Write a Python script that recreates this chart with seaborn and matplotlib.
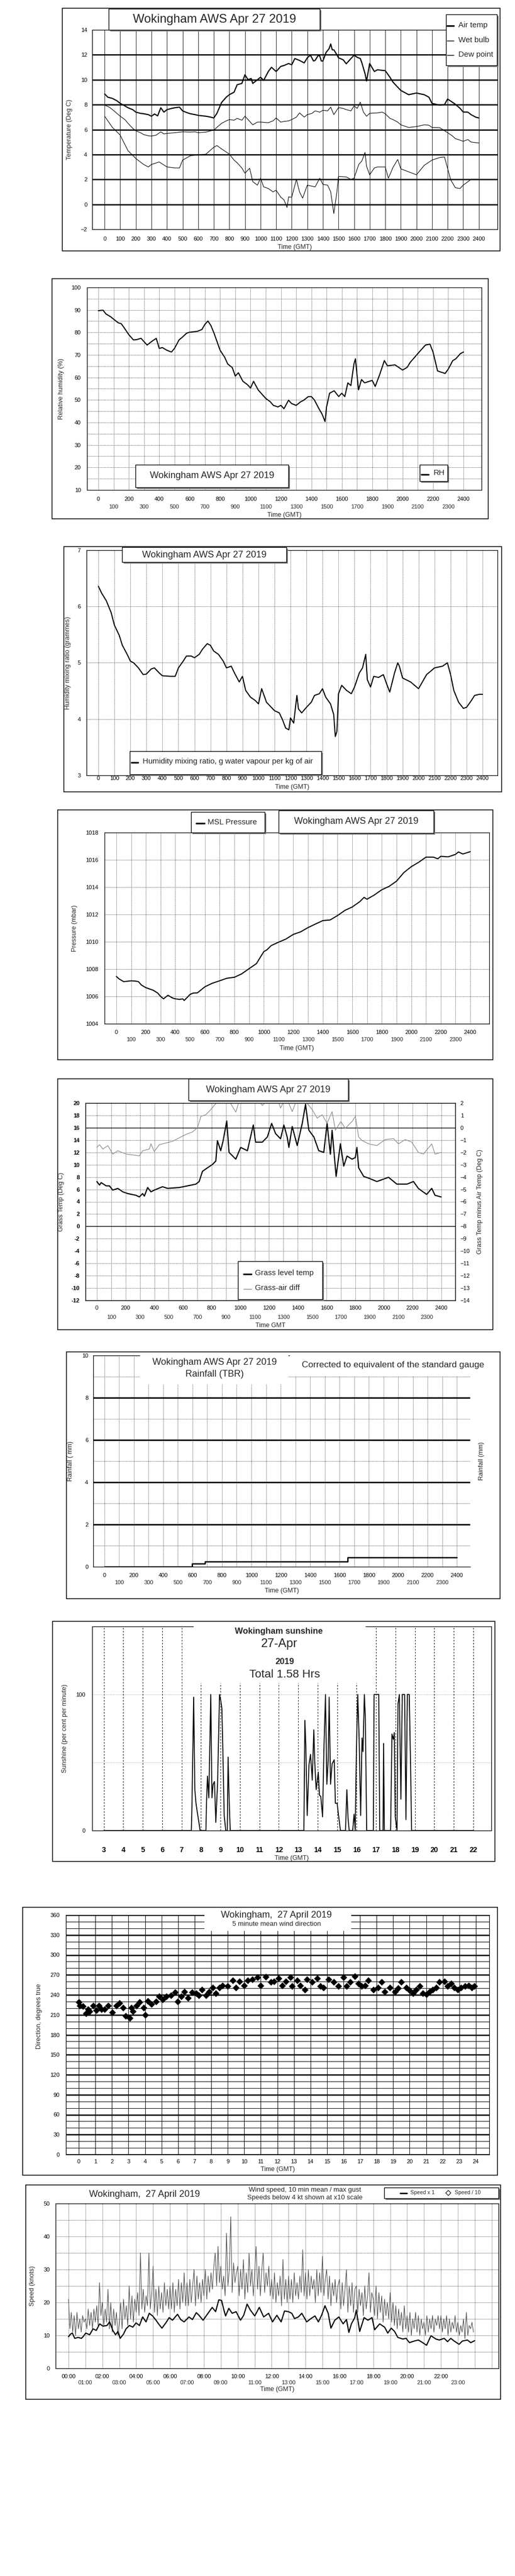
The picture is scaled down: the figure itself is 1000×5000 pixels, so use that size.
import numpy as np
import seaborn as sns
import matplotlib.pyplot as plt
from matplotlib.patches import Rectangle
from matplotlib.lines import Line2D
from matplotlib.ticker import MultipleLocator

# ---------------- data ----------------
# temperature panel, time as HHMM
at_time = [0, 20, 50, 80, 100, 130, 150, 180, 200, 230, 250, 280, 300, 320, 340, 360, 380, 400, 430, 450,
           480, 500, 530, 550, 580, 600, 650, 680, 700, 720, 750, 780, 800, 830, 850, 880, 900, 920, 940, 950,
           980, 1000, 1020, 1050, 1070, 1100, 1130, 1150, 1180, 1200, 1220, 1250, 1280, 1300, 1320, 1340, 1350,
           1370, 1380, 1390, 1400, 1420, 1440, 1450, 1460, 1470, 1490, 1500, 1530, 1550, 1580, 1600, 1620, 1640,
           1650, 1670, 1680, 1700, 1730, 1750, 1780, 1800, 1830, 1850, 1880, 1900, 1950, 2000, 2050, 2080, 2100,
           2150, 2180, 2200, 2230, 2250, 2280, 2300, 2330, 2350, 2380, 2400]
air_temp = [8.86, 8.6, 8.5, 8.3, 8.1, 7.9, 7.75, 7.6, 7.4, 7.3, 7.27, 7.2, 7.07, 7.25, 7.1, 7.75, 7.4, 7.6, 7.7, 7.75,
            7.8, 7.5, 7.35, 7.27, 7.2, 7.14, 7.07, 7.0, 6.93, 7.3, 8.17, 8.6, 8.8, 9.0, 9.6, 9.7, 10.4, 10.0, 10.1, 9.7,
            10.0, 10.2, 9.95, 10.66, 11.0, 10.66, 11.07, 11.14, 11.3, 11.2, 11.7, 11.55, 11.35, 11.76, 11.97, 11.5, 11.55,
            11.95, 11.9, 11.5, 11.5, 12.18, 12.5, 12.87, 12.4, 12.4, 12.0, 11.76, 11.6, 11.28, 11.7, 11.97, 11.8, 11.7,
            11.35, 10.5, 9.9, 11.3, 10.66, 10.8, 10.75, 10.73, 10.2, 9.8, 9.4, 9.14, 8.8, 8.93, 8.8, 8.6, 8.1,
            7.96, 8.0, 8.45, 8.2, 8.03, 7.7, 7.41, 7.4, 7.2, 7.0, 6.93]

wb_time = [0, 30, 60, 100, 130, 150, 180, 200, 230, 250, 280, 300, 330, 360, 380, 400, 450, 500, 550, 580,
           600, 650, 700, 750, 780, 800, 830, 850, 880, 900, 920, 950, 980, 1000, 1050, 1080, 1100, 1130, 1150, 1180,
           1200, 1230, 1250, 1280, 1300, 1330, 1350, 1380, 1400, 1430, 1450, 1470, 1500, 1530, 1550, 1580, 1600, 1620,
           1640, 1660, 1680, 1700, 1750, 1780, 1800, 1830, 1850, 1880, 1900, 1950, 2000, 2050, 2080, 2100, 2150,
           2200, 2230, 2250, 2280, 2300, 2330, 2350, 2380, 2400]
wet_bulb = [7.96, 7.8, 7.5, 7.07, 6.8, 6.5, 6.1, 5.9, 5.75, 5.6, 5.5, 5.48, 5.55, 5.82, 5.65, 5.69, 5.75, 5.82, 5.8, 5.82,
            5.75, 5.8, 5.96, 6.5, 6.7, 6.8, 6.75, 6.9, 6.75, 7.07, 6.8, 6.38, 6.6, 6.6, 6.55, 6.7, 6.93, 6.6, 6.65, 6.7,
            6.8, 7.0, 7.34, 7.0, 7.2, 7.3, 7.5, 7.4, 7.55, 7.5, 7.8, 7.2, 7.76, 7.7, 7.6, 7.5, 7.9, 7.7,
            8.2, 7.4, 7.07, 7.3, 7.34, 7.4, 7.27, 6.9, 6.8, 6.6, 6.38, 6.17, 6.24, 6.38, 6.35, 6.17, 6.15,
            5.75, 5.5, 5.27, 5.15, 5.06, 5.2, 5.0, 4.95, 4.93]

dp_time = [0, 50, 100, 150, 200, 250, 280, 300, 350, 400, 450, 480, 500, 550, 600, 650, 700, 720, 750, 800,
           830, 850, 880, 900, 930, 950, 980, 1000, 1020, 1050, 1080, 1100, 1130, 1150, 1170, 1180, 1200, 1230, 1250,
           1270, 1300, 1350, 1380, 1400, 1430, 1450, 1470, 1490, 1500, 1550, 1580, 1600, 1630, 1650, 1670, 1680,
           1700, 1730, 1750, 1800, 1820, 1850, 1880, 1900, 2000, 2050, 2100, 2150, 2180, 2220, 2250, 2280, 2300,
           2350, 2400]
dew_point = [7.07, 6.17, 5.55, 4.3, 3.68, 3.2, 3.0, 3.2, 3.4, 3.0, 2.92, 2.92, 3.55, 3.9, 3.96, 4.03, 4.58, 4.72, 4.45, 4.03,
             3.55, 3.33, 2.92, 2.5, 2.9, 1.82, 1.54, 2.1, 1.4, 1.27, 1.0, 1.13, 0.57, 0.37, -0.25, 0.6, 0.57, 2.0, 1.0,
             0.5, 1.54, 1.4, 2.1, 1.6, 1.54, 1.0, -0.74, 1.0, 2.24, 2.2, 2.0, 2.1, 3.2, 3.48, 4.17, 3.06,
             2.37, 2.92, 3.0, 3.0, 2.1, 2.97, 3.6, 2.85, 2.37, 3.13, 3.55, 3.76, 3.8, 1.96, 1.33, 1.27, 1.54,
             2.0, 2.0]

# relative humidity
rh_time = [0, 30, 50, 80, 100, 130, 150, 170, 200, 230, 250, 280, 300, 320, 350, 380, 400, 420, 450, 480,
           500, 530, 550, 580, 600, 650, 680, 700, 720, 740, 760, 780, 800, 830, 850, 880, 900, 920, 950, 980,
           1000, 1020, 1050, 1080, 1100, 1130, 1150, 1180, 1200, 1220, 1250, 1270, 1300, 1330, 1350, 1380, 1400,
           1420, 1450, 1470, 1490, 1500, 1520, 1550, 1580, 1600, 1620, 1640, 1660, 1680, 1690, 1700, 1710, 1730,
           1750, 1800, 1820, 1850, 1880, 1900, 1950, 2000, 2030, 2050, 2100, 2130, 2150, 2180, 2200, 2230, 2260,
           2280, 2300, 2330, 2350, 2380, 2400]
rh = [89.7, 89.9, 88.2, 87.0, 85.9, 84.3, 83.9, 82.0, 79.0, 76.7, 76.8, 77.4, 75.9, 74.4, 76.0, 77.4, 72.9, 73.3, 72.1, 71.3,
      72.9, 76.7, 77.8, 79.7, 80.1, 80.5, 81.3, 83.6, 85.1, 83.0, 79.7, 75.9, 72.1, 69.0, 66.0, 64.4, 60.6, 62.1, 58.3, 56.8,
      55.3, 58.3, 54.5, 52.2, 50.7, 49.2, 47.6, 46.9, 47.6, 46.1, 49.9, 48.4, 47.6, 49.2, 49.9, 51.5, 51.5,
      50.0, 46.1, 43.8, 40.4, 46.9, 53.0, 54.1, 51.5, 53.0, 51.5, 57.6, 56.4, 66.0, 68.3, 61.4, 54.5, 59.1,
      57.6, 58.7, 56.0, 61.4, 67.5, 65.2, 65.6, 63.3, 64.5, 66.7, 70.6, 72.9, 74.4, 74.8, 71.3, 62.9, 62.2,
      61.8, 63.7, 67.5, 68.3, 70.6, 71.3]

# humidity mixing ratio
mr_time = [0, 20, 50, 80, 100, 130, 150, 180, 200, 220, 250, 280, 300, 330, 350, 380, 400, 450, 480, 500,
           530, 550, 580, 600, 630, 650, 680, 700, 720, 750, 780, 800, 830, 850, 880, 900, 920, 950, 980, 1000,
           1020, 1050, 1080, 1100, 1130, 1150, 1170, 1190, 1200, 1220, 1240, 1250, 1270, 1300, 1330, 1350, 1380,
           1400, 1420, 1450, 1470, 1480, 1490, 1500, 1520, 1550, 1580, 1600, 1630, 1650, 1670, 1680, 1700, 1720,
           1750, 1780, 1800, 1820, 1850, 1870, 1880, 1900, 1950, 2000, 2030, 2050, 2100, 2150, 2180, 2200, 2220,
           2250, 2280, 2300, 2330, 2350, 2380, 2400]
mixing = [6.36, 6.24, 6.10, 5.89, 5.67, 5.49, 5.31, 5.15, 5.03, 5.00, 4.91, 4.79, 4.80, 4.89, 4.91, 4.82, 4.77, 4.76, 4.76, 4.91,
          5.03, 5.12, 5.12, 5.09, 5.15, 5.24, 5.34, 5.31, 5.21, 5.15, 5.03, 4.91, 4.94, 4.82, 4.66, 4.76, 4.51, 4.39, 4.33, 4.27,
          4.54, 4.30, 4.21, 4.15, 4.11, 3.99, 3.84, 3.81, 4.02, 3.93, 4.42, 4.18, 4.11, 4.21, 4.30, 4.42, 4.45,
          4.54, 4.39, 4.27, 4.08, 3.69, 3.78, 4.45, 4.60, 4.51, 4.45, 4.57, 4.82, 4.91, 5.15, 4.70, 4.57, 4.76,
          4.74, 4.79, 4.63, 4.48, 4.82, 5.00, 4.94, 4.73, 4.66, 4.54, 4.69, 4.79, 4.91, 4.94, 5.00, 4.79, 4.51,
          4.30, 4.19, 4.21, 4.33, 4.42, 4.44, 4.44]

# MSL pressure
pr_time = [0, 20, 50, 100, 130, 150, 170, 200, 250, 280, 300, 320, 350, 380, 400, 430, 450, 460, 500, 520,
           550, 600, 650, 700, 750, 800, 850, 900, 950, 1000, 1020, 1050, 1100, 1150, 1200, 1250, 1300, 1350, 1400,
           1450, 1500, 1550, 1600, 1650, 1680, 1700, 1750, 1800, 1850, 1900, 1950, 2000, 2050, 2100, 2150, 2180,
           2200, 2250, 2300, 2320, 2350, 2400]
pressure = [1007.46, 1007.27, 1007.08, 1007.14, 1007.12, 1007.08, 1006.83, 1006.64, 1006.45, 1006.25, 1006.0, 1005.82,
            1006.08, 1005.89, 1005.82, 1005.78, 1005.82, 1005.70, 1006.14, 1006.24, 1006.26, 1006.70, 1006.96, 1007.14,
            1007.33, 1007.40, 1007.65, 1008.03, 1008.40, 1009.28, 1009.40, 1009.72, 1009.97, 1010.20, 1010.54, 1010.73,
            1011.04, 1011.30, 1011.55, 1011.60, 1011.92, 1012.30, 1012.55, 1012.93, 1013.25, 1013.12, 1013.43, 1013.81,
            1014.06, 1014.44, 1015.07, 1015.50, 1015.82, 1016.20, 1016.20, 1016.08, 1016.26, 1016.22, 1016.40, 1016.58,
            1016.43, 1016.60]

# grass temperature and grass minus air
gt_time = [0, 19, 30, 65, 88, 111, 146, 181, 215, 273, 296, 319, 331, 354, 377, 400, 458, 493, 574, 632,
           690, 713, 736, 771, 806, 829, 840, 863, 880, 905, 921, 968, 1002, 1049, 1090, 1106, 1153, 1188, 1218,
           1245, 1280, 1303, 1326, 1338, 1361, 1396, 1431, 1454, 1477, 1512, 1546, 1581, 1604, 1627, 1639, 1667,
           1697, 1720, 1743, 1778, 1801, 1812, 1824, 1859, 1894, 1951, 2032, 2090, 2160, 2206, 2240, 2264, 2298,
           2333, 2356, 2398]
grass_temp = [7.27, 6.7, 7.1, 6.57, 6.57, 5.88, 6.16, 5.6, 5.32, 5.04, 4.77, 5.32, 4.9, 6.3, 5.6, 5.88, 6.43, 6.16, 6.3, 6.57,
              6.85, 7.27, 8.93, 9.5, 10.05, 10.6, 13.9, 12.27, 13.9, 17.1, 12.0, 10.9, 12.8, 12.27, 16.44, 13.66, 13.66,
              14.5, 16.7, 15.05, 14.2, 16.44, 14.5, 12.8, 16.2, 13.1, 16.7, 19.8, 15.6, 14.5, 12.27, 12.0, 16.7, 11.7,
              15.6, 8.1, 13.4, 9.77, 11.4, 10.9, 11.16, 12.8, 9.5, 8.1, 7.82, 7.27, 7.96, 6.85, 6.85, 7.27, 6.16, 5.74,
              5.18, 6.16, 5.04, 4.77]
gd_time = [0, 19, 42, 77, 111, 146, 204, 250, 296, 319, 366, 377, 400, 435, 481, 528, 574, 620, 667, 701,
           725, 759, 794, 829, 850, 880, 920, 968, 1000, 1050, 1100, 1153, 1200, 1250, 1280, 1320, 1361, 1400, 1450,
           1500, 1535, 1570, 1604, 1639, 1662, 1700, 1731, 1760, 1778, 1801, 1824, 1847, 1894, 1951, 2009, 2067,
           2102, 2148, 2194, 2240, 2275, 2333, 2356, 2398]
grass_diff = [-1.59, -1.38, -1.73, -1.45, -2.14, -1.87, -2.14, -2.21, -2.28, -1.87, -1.73, -1.31, -1.94, -1.38, -1.24,
              -1.1, -0.82, -0.55, -0.34, 0.0, 0.92, 1.05, 1.47, 1.96, 2.4, 2.6, 2.2, 1.26, 2.5, 2.3, 2.6, 1.8, 2.4,
              2.6, 1.6, 2.5, 1.3, 2.5, 2.2, 1.47, 0.78, 1.05, 0.36, 1.3, -0.2, 0.5, -0.06, 0.3, 0.5, 0.92, -0.75,
              -1.03, -1.31, -1.45, -0.96, -0.89, -1.31, -0.96, -1.17, -2.0, -2.14, -1.31, -2.14, -2.0]

# rainfall accumulation (step)
rain_time = [0, 595, 685, 1655, 2400]
rain_mm = [0, 0.15, 0.24, 0.45, 0.45]

# sunshine, hours GMT and per cent per minute
sun_hour = [3.0, 7.50, 7.53, 7.62, 7.68, 7.74, 7.80, 7.90, 7.95, 8.25, 8.28, 8.33, 8.40, 8.50, 8.56, 8.62, 8.69,
            8.76, 8.85, 8.90, 8.95, 9.02, 9.07, 9.12, 9.19, 9.27, 9.35, 9.39, 9.44, 9.50, 13.29, 13.34, 13.39,
            13.46, 13.55, 13.63, 13.72, 13.80, 13.85, 13.92, 14.03, 14.09, 14.16, 14.25, 14.32, 14.40, 14.47,
            14.54, 14.59, 14.66, 14.74, 14.85, 14.91, 15.00, 15.09, 15.17, 15.43, 15.50, 15.56, 15.62, 15.80,
            15.87, 15.93, 15.99, 16.06, 16.13, 16.21, 16.28, 16.33, 16.40, 16.45, 16.52, 16.86, 16.90, 17.14,
            17.19, 17.36, 17.39, 17.43, 17.75, 17.82, 17.89, 17.94, 17.99, 18.08, 18.13, 18.20, 18.28, 18.35,
            18.47, 18.54, 18.61, 18.71, 18.78, 18.83, 22.0]
sun_pct = [0, 0, 17, 98, 30, 20, 14, 5, 0, 0, 20, 40, 24, 100, 24, 34, 36,
           6, 35, 67, 100, 95, 90, 60, 11, 0, 0, 54, 26, 0, 0, 81, 62,
           11, 48, 56, 37, 74, 50, 30, 43, 26, 25, 10, 60, 100, 34,
           52, 98, 34, 49, 52, 20, 20, 9, 0, 0, 30, 9, 0, 0,
           12, 0, 59, 100, 68, 11, 68, 58, 100, 83, 0, 0, 100, 100,
           0, 0, 64, 0, 0, 71, 67, 72, 10, 0, 93, 100, 23, 100,
           100, 8, 100, 100, 45, 0, 0]

# wind direction, 5 minute mean
wd_hour = [0.0, 0.06, 0.26, 0.42, 0.56, 0.66, 0.86, 1.06, 1.22, 1.37, 1.57, 1.77, 2.03, 2.27, 2.47, 2.67, 2.83,
           3.07, 3.17, 3.27, 3.47, 3.67, 3.92, 4.02, 4.18, 4.38, 4.68, 4.84, 5.08, 5.28, 5.58, 5.82, 5.98, 6.18,
           6.39, 6.59, 6.85, 7.09, 7.25, 7.45, 7.69, 7.89, 8.09, 8.29, 8.49, 8.69, 9.0, 9.3, 9.5, 9.7, 9.98,
           10.2, 10.5, 10.8, 11.0, 11.3, 11.6, 11.8, 12.07, 12.31, 12.5, 12.8, 12.9, 13.2, 13.4, 13.67, 13.8,
           14.1, 14.4, 14.6, 14.8, 15.1, 15.4, 15.7, 16.0, 16.2, 16.4, 16.7, 16.9, 17.1, 17.3, 17.5, 17.8, 18.1,
           18.3, 18.5, 18.8, 19.1, 19.3, 19.5, 19.8, 20.0, 20.2, 20.4, 20.6, 20.8, 21.0, 21.2, 21.4, 21.6, 21.8,
           22.1, 22.3, 22.5, 22.7, 22.9, 23.1, 23.35, 23.55, 23.75, 23.9]
wd_deg = [229.5, 224, 223, 212, 218, 215, 224, 217, 224, 218, 218, 224, 214, 224, 228, 221, 208,
          205, 221, 215, 224, 229, 221, 210, 231, 226, 230, 238, 233, 238, 239, 244, 230, 238,
          245, 235, 244, 242, 239, 248, 239, 245, 251, 242, 251, 254, 253, 262, 251, 260, 254,
          262, 263, 266, 254, 267, 259, 260, 265, 254, 260, 266, 253, 262, 254, 248, 263,
          259, 265, 253, 251, 263, 259, 253, 266, 253, 259, 268, 257, 253, 254, 262, 248, 251,
          259, 245, 251, 245, 250, 259, 251, 247, 242, 248, 253, 242, 241, 245, 248, 251, 259,
          260, 253, 257, 251, 248, 251, 253, 254, 251, 253]

# wind speed, 10 min mean
ws_hour = [0.0, 0.12, 0.23, 0.37, 0.57, 0.76, 0.86, 1.02, 1.25, 1.45, 1.64, 1.84, 2.04, 2.27, 2.43, 2.62, 2.78,
           2.92, 3.05, 3.25, 3.4, 3.6, 3.8, 3.99, 4.19, 4.38, 4.58, 4.77, 4.97, 5.17, 5.32, 5.52, 5.75, 5.95,
           6.14, 6.44, 6.63, 6.83, 7.12, 7.32, 7.55, 7.71, 7.95, 8.2, 8.49, 8.69, 8.88, 9.04, 9.18, 9.28, 9.47,
           9.67, 9.9, 10.16, 10.35, 10.55, 10.74, 11.0, 11.27, 11.53, 11.82, 12.05, 12.31, 12.56, 12.76, 12.99,
           13.19, 13.35, 13.58, 13.78, 14.07, 14.32, 14.56, 14.76, 14.95, 15.15, 15.34, 15.5, 15.73, 15.97,
           16.22, 16.42, 16.56, 16.71, 16.91, 17.0, 17.2, 17.46, 17.69, 17.93, 18.08, 18.38, 18.67, 18.86,
           19.06, 19.26, 19.45, 19.74, 19.94, 20.14, 20.43, 20.67, 20.92, 21.15, 21.41, 21.7, 21.9, 22.19,
           22.39, 22.58, 22.78, 23.07, 23.27, 23.56, 23.76, 23.99]
ws_mean = [9.6, 10.4, 10.7, 9.1, 9.4, 9.1, 9.6, 10.7, 10.2, 12.0, 11.5, 13.5, 12.8, 13.0, 14.1, 11.5, 10.2,
           11.2, 9.1, 10.4, 12.0, 13.0, 12.5, 13.8, 13.0, 15.6, 14.1, 16.7, 15.9, 14.6, 13.5, 12.2, 13.8, 15.4,
           14.6, 16.4, 14.8, 14.1, 15.6, 14.8, 16.9, 16.1, 14.6, 16.4, 18.5, 17.2, 20.8, 20.6, 17.7, 15.9, 18.2,
           16.7, 17.2, 14.6, 16.1, 19.5, 17.7, 15.9, 18.5, 15.6, 16.7, 14.1, 16.1, 14.1, 17.4, 17.2,
           16.7, 15.1, 15.6, 16.7, 14.1, 15.1, 15.9, 14.1, 16.1, 19.0, 16.7, 12.2, 14.6, 15.6,
           13.5, 14.8, 10.9, 13.5, 15.4, 17.7, 11.2, 15.4, 14.6, 15.4, 11.7, 13.5, 12.5, 10.7,
           12.2, 11.2, 9.4, 8.9, 9.1, 7.8, 8.3, 8.6, 7.8, 7.0, 9.9, 8.9, 8.6, 9.1,
           8.1, 9.1, 8.3, 7.3, 8.3, 8.6, 7.8, 8.4]

# max gust, every 5 minutes from 00:00
ws_gust = [21, 12, 17, 11, 16, 10, 17, 12, 15, 11, 16, 14,
           15, 12, 18, 13, 17, 12, 18, 14, 19, 13, 26, 16,
           20, 13, 18, 14, 24, 12, 20, 11, 18, 13, 17, 10,
           14, 20, 12, 21, 15, 19, 13, 25, 15, 22, 14, 21,
           17, 23, 16, 35, 18, 24, 17, 22, 19, 35, 18, 23,
           31, 17, 24, 16, 25, 18, 23, 17, 26, 19, 24, 18,
           25, 18, 26, 17, 24, 19, 27, 18, 26, 20, 29, 19,
           26, 19, 27, 20, 25, 30, 19, 28, 21, 26, 20, 27,
           22, 30, 21, 28, 23, 29, 24, 31, 35, 25, 37, 26,
           31, 24, 28, 22, 41, 25, 30, 46, 23, 32, 26, 29,
           31, 22, 30, 24, 33, 21, 29, 23, 35, 25, 30, 22,
           29, 37, 24, 31, 22, 30, 35, 23, 29, 25, 31, 22,
           27, 21, 29, 20, 26, 22, 28, 19, 33, 21, 27, 20,
           28, 21, 27, 20, 29, 22, 26, 21, 28, 23, 36, 22,
           29, 21, 30, 22, 28, 24, 27, 20, 30, 22, 29, 23,
           34, 22, 27, 30, 21, 28, 19, 26, 22, 27, 20, 25,
           27, 18, 26, 19, 24, 30, 17, 25, 19, 26, 17, 24,
           25, 17, 24, 19, 23, 16, 25, 18, 22, 29, 17, 23,
           21, 16, 25, 15, 23, 17, 22, 14, 21, 16, 20, 15,
           23, 14, 20, 13, 19, 12, 18, 13, 17, 11, 19, 12,
           16, 11, 17, 10, 15, 12, 17, 11, 16, 10, 15, 12,
           14, 10, 16, 11, 15, 12, 16, 11, 15, 13, 16, 12,
           16, 11, 15, 12, 16, 10, 15, 11, 14, 12, 16, 11,
           14, 10, 13, 11, 15, 9, 17, 10, 13, 12, 14, 11]
gust_hour = np.arange(len(ws_gust)) / 12.0

hhmm_ticks = list(range(0, 2401, 100))
hhmm_labels = [str(t) for t in hhmm_ticks]

# ---------------- figure ----------------
sns.set_style("white")
plt.rcParams["font.family"] = ["Liberation Sans", "DejaVu Sans"]

W, H = 1000, 5000
fig = plt.figure(figsize=(10, 50), dpi=100)


def fx(x):
    return x / W


def fy(y):
    return 1 - y / H


def add_ax(x0, y0, x1, y1):
    ax = fig.add_axes([fx(x0), fy(y1), (x1 - x0) / W, (y1 - y0) / H])
    ax.set_facecolor("white")
    for s in ax.spines.values():
        s.set_visible(True)
        s.set_color("black")
        s.set_linewidth(0.9)
    ax.tick_params(length=0, labelsize=8, colors="black")
    ax.set_axisbelow(True)
    return ax


def frame(x0, y0, x1, y1):
    fig.patches.append(Rectangle((fx(x0), fy(y1)), (x1 - x0) / W, (y1 - y0) / H,
                                 transform=fig.transFigure, fill=False, ec="black", lw=1.1, zorder=1))


def box(x0, y0, x1, y1, shadow=True, edge=True):
    if shadow:
        fig.patches.append(Rectangle((fx(x0 + 3), fy(y1 + 3)), (x1 - x0) / W, (y1 - y0) / H,
                                     transform=fig.transFigure, fc="#808080", ec="none", zorder=4))
    fig.patches.append(Rectangle((fx(x0), fy(y1)), (x1 - x0) / W, (y1 - y0) / H,
                                 transform=fig.transFigure, fc="white",
                                 ec="black" if edge else "none", lw=1.0, zorder=5))


def text(x, y, s, size, ha="center", **kw):
    fig.text(fx(x), fy(y), s, fontsize=size, ha=ha, va="center", zorder=6, **kw)


def key_line(x0, x1, y, color="black", lw=2.2):
    fig.lines.append(Line2D([fx(x0), fx(x1)], [fy(y), fy(y)], transform=fig.transFigure,
                            color=color, lw=lw, zorder=6))


def labels(ax, box_px, ylab, ylab_x, xlab, xlab_y, size=9, ylab_frac=0.5):
    x0, y0, x1, y1 = box_px
    ax.set_ylabel(ylab, fontsize=size, va="center")
    ax.yaxis.set_label_coords((ylab_x - x0) / (x1 - x0), ylab_frac)
    ax.set_xlabel(xlab, fontsize=size, va="center")
    ax.xaxis.set_label_coords(0.5, -(xlab_y - y1) / (y1 - y0))


def two_row(ax, ticks, labs, pad, gap, size=8):
    ax.set_xticks(ticks[0::2])
    ax.set_xticklabels(labs[0::2])
    ax.set_xticks(ticks[1::2], minor=True)
    ax.set_xticklabels(labs[1::2], minor=True)
    ax.tick_params(axis="x", which="major", pad=pad, labelsize=size)
    ax.tick_params(axis="x", which="minor", pad=pad + gap, length=0, labelsize=size)


def line(ax, x, y, color="black", lw=1.5, **kw):
    sns.lineplot(x=x, y=y, ax=ax, color=color, linewidth=lw, estimator=None, sort=False, legend=False, **kw)


dotted = (0, (1, 1.6))

# ===== 1. temperature =====
frame(121, 16, 971, 487)
b = (179, 58, 966, 445)
ax = add_ax(*b)
line(ax, at_time, air_temp, lw=1.6)
line(ax, wb_time, wet_bulb, lw=0.8)
line(ax, dp_time, dew_point, lw=0.8)
ax.set_xlim(-80, 2520)
ax.set_ylim(-2, 14)
ax.set_xticks(hhmm_ticks)
ax.set_xticklabels(hhmm_labels)
ax.set_yticks(range(-2, 15, 2))
ax.grid(True, axis="x", color="black", lw=0.6)
for v in range(0, 13, 2):
    ax.axhline(v, color="black", lw=1.8, zorder=0.5)
ax.tick_params(axis="x", pad=10)
ax.tick_params(axis="y", pad=7)
labels(ax, b, "Temperature (Deg C)", 135, "Time (GMT)", 480)
box(211, 17, 621, 58)
text(416, 38, "Wokingham AWS Apr 27 2019", 17)
box(866, 28, 965, 127)
key_line(868, 881, 50, lw=2.2)
key_line(868, 881, 79, lw=1.0)
key_line(868, 881, 107, lw=1.0)
text(890, 49, "Air temp", 11, ha="left")
text(890, 78, "Wet bulb", 11, ha="left")
text(890, 106, "Dew point", 11, ha="left")

# ===== 2. relative humidity =====
frame(101, 541, 948, 1007)
b = (169, 558, 935, 951)
ax = add_ax(*b)
line(ax, rh_time, rh, lw=1.5)
ax.set_xlim(-75, 2519)
ax.set_ylim(10, 100)
two_row(ax, hhmm_ticks, hhmm_labels, 9.4, 10.6)
ax.set_yticks(range(10, 101, 10))
ax.yaxis.set_minor_locator(MultipleLocator(5))
ax.grid(True, which="both", color="black", lw=0.6, ls=dotted)
ax.tick_params(axis="y", pad=8.6)
labels(ax, b, "Relative humidity (%)", 119, "Time (GMT)", 1000)
box(263, 902, 560, 946)
text(412, 924, "Wokingham AWS Apr 27 2019", 13)
box(815, 902, 869, 934)
key_line(818, 832, 921)
text(842, 918, "RH", 11, ha="left")

# ===== 3. mixing ratio =====
frame(124, 1061, 974, 1537)
b = (168, 1068, 966, 1505)
ax = add_ax(*b)
line(ax, mr_time, mixing, lw=1.5)
ax.set_xlim(-74, 2493)
ax.set_ylim(3, 7)
ax.set_xticks(hhmm_ticks)
ax.set_xticklabels(hhmm_labels)
ax.set_yticks(range(3, 8))
ax.grid(True, color="black", lw=0.6, ls=dotted)
ax.tick_params(axis="x", pad=0.8)
ax.tick_params(axis="y", pad=8)
labels(ax, b, "Humidity mixing ratio (grammes)", 132, "Time (GMT)", 1528)
box(237, 1062, 556, 1091)
text(397, 1077, "Wokingham AWS Apr 27 2019", 13)
box(252, 1458, 624, 1503)
key_line(255, 268, 1480)
text(277, 1478, "Humidity mixing ratio, g water vapour per kg of air", 10.8, ha="left")

# ===== 4. pressure =====
frame(112, 1572, 957, 2057)
b = (203, 1616, 950, 1987)
ax = add_ax(*b)
line(ax, pr_time, pressure, lw=1.5)
ax.set_xlim(-80, 2529)
ax.set_ylim(1004, 1018)
two_row(ax, hhmm_ticks, hhmm_labels, 8.6, 10)
ax.set_yticks(range(1004, 1019, 2))
ax.grid(True, which="both", color="black", lw=0.6, ls=dotted)
ax.tick_params(axis="y", pad=8.6)
labels(ax, b, "Pressure (mbar)", 145, "Time (GMT)", 2035)
box(371, 1576, 514, 1616)
key_line(381, 397, 1598)
text(403, 1596, "MSL Pressure", 11, ha="left")
box(541, 1573, 842, 1617)
text(692, 1595, "Wokingham AWS Apr 27 2019", 13)

# ===== 5. grass temperature =====
frame(112, 2094, 957, 2581)
b = (166, 2141, 884, 2524)
ax = add_ax(*b)
ax2 = ax.twinx()
line(ax, gt_time, grass_temp, lw=1.6)
line(ax2, gd_time, grass_diff, color="#8a8a8a", lw=0.9)
ax.set_xlim(-79, 2497)
ax.set_ylim(-12, 20)
ax2.set_ylim(-14, 2)
two_row(ax, hhmm_ticks, hhmm_labels, 7.2, 13)
ax.set_yticks(range(-12, 21, 2))
ax.set_yticklabels([str(v) for v in range(-12, 21, 2)], fontweight="bold")
ax2.set_yticks(range(-14, 3))
ax.grid(True, which="both", color="black", lw=0.6, ls=dotted)
ax.axhline(0, color="black", lw=1.0, zorder=0.5)
ax.axhline(16, color="black", lw=1.0, zorder=0.5)
ax.tick_params(axis="y", pad=8)
ax2.tick_params(length=0, labelsize=8, pad=7, colors="black")
for s in ax2.spines.values():
    s.set_color("black")
    s.set_linewidth(0.9)
labels(ax, b, "Grass Temp (Deg C)", 119, "Time GMT", 2573)
ax2.set_ylabel("Grass Temp minus Air Temp (Deg C)", fontsize=9, va="center")
ax2.yaxis.set_label_coords((932 - 166) / (884 - 166), 0.5)
box(366, 2094, 676, 2136)
text(521, 2115, "Wokingham AWS Apr 27 2019", 13)
box(462, 2448, 626, 2522)
key_line(473, 488, 2473)
key_line(473, 488, 2502, color="#8a8a8a", lw=1.0)
text(495, 2471, "Grass level temp", 11, ha="left")
text(495, 2500, "Grass-air diff", 11, ha="left")

# ===== 6. rainfall =====
frame(129, 2624, 971, 3103)
b = (181, 2631, 913, 3041)
ax = add_ax(*b)
line(ax, rain_time, rain_mm, lw=1.8, drawstyle="steps-post")
ax.set_xlim(-77, 2491)
ax.set_ylim(0, 10)
two_row(ax, hhmm_ticks, hhmm_labels, 8.6, 10)
ax.set_yticks(range(0, 11, 2))
ax.yaxis.set_minor_locator(MultipleLocator(1))
ax.grid(True, which="both", axis="x", color="black", lw=0.6, ls=dotted)
ax.grid(True, which="minor", axis="y", color="black", lw=0.6, ls=dotted)
for v in range(2, 9, 2):
    ax.axhline(v, color="black", lw=2.0, zorder=0.5)
ax.spines["right"].set_visible(False)
ax.tick_params(axis="y", pad=7)
labels(ax, b, "Rainfall ( mm)", 137, "Time (GMT)", 3088)
fig.text(fx(935), fy(2836), "Rainfall (mm)", rotation=90, fontsize=9, ha="center", va="center")
box(272, 2628, 560, 2687, shadow=False, edge=False)
box(563, 2628, 962, 2672, shadow=False, edge=False)
text(417, 2644, "Wokingham AWS Apr 27 2019", 13)
text(417, 2667, "Rainfall (TBR)", 13)
text(763, 2649, "Corrected to equivalent of the standard gauge", 12.5)

# ===== 7. sunshine =====
frame(102, 3147, 961, 3613)
b = (179, 3157, 954, 3553)
ax = add_ax(*b)
line(ax, sun_hour, sun_pct, lw=1.3)
ax.set_xlim(2.4, 22.93)
ax.set_ylim(0, 150)
ax.set_xticks(range(3, 23))
ax.set_xticklabels([str(h) for h in range(3, 23)], fontweight="bold", fontsize=10)
ax.set_yticks([0, 100])
ax.yaxis.set_minor_locator(MultipleLocator(50))
ax.grid(True, axis="x", color="black", lw=0.7, ls=(0, (3, 3)))
ax.grid(True, which="both", axis="y", color="#9a9a9a", lw=0.7, ls=dotted)
ax.tick_params(axis="x", pad=22)
ax.tick_params(axis="y", pad=9.4)
labels(ax, b, "Sunshine (per cent per minute)", 126, "Time (GMT)", 3607)
box(376, 3155, 710, 3212, shadow=False, edge=False)
box(390, 3212, 694, 3267, shadow=False, edge=False)
text(541, 3166, "Wokingham sunshine", 12, fontweight="bold")
text(542, 3191, "27-Apr", 17)
text(553, 3226, "2019", 12, fontweight="bold")
text(553, 3251, "Total 1.58 Hrs", 16)

# ===== 8. wind direction =====
frame(44, 3702, 966, 4222)
b = (128, 3717, 950, 4182)
ax = add_ax(*b)
sns.scatterplot(x=wd_hour, y=wd_deg, ax=ax, marker="D", s=42, color="black", edgecolor="black",
                linewidth=0.3, legend=False, zorder=3)
ax.set_xlim(-0.78, 24.81)
ax.set_ylim(0, 360)
ax.set_xticks(range(0, 25))
ax.set_yticks(range(0, 361, 30))
ax.yaxis.set_minor_locator(MultipleLocator(10))
ax.grid(True, axis="x", color="black", lw=0.7)
ax.grid(True, which="major", axis="y", color="black", lw=1.8)
ax.grid(True, which="minor", axis="y", color="black", lw=0.7)
ax.tick_params(axis="x", pad=6.5)
ax.tick_params(axis="y", pad=8.6)
labels(ax, b, "Direction, degrees true", 76, "Time (GMT)", 4211, ylab_frac=0.578)
box(397, 3714, 682, 3748, shadow=False, edge=False)
text(537, 3718, "Wokingham,  27 April 2019", 13)
text(537, 3735, "5 minute mean wind direction", 9.5)

# ===== 9. wind speed =====
frame(50, 4241, 972, 4657)
b = (108, 4277, 968, 4597)
ax = add_ax(*b)
line(ax, gust_hour, ws_gust, color="#505050", lw=0.8)
line(ax, ws_hour, ws_mean, lw=1.6)
ax.set_xlim(-0.76, 25.4)
ax.set_ylim(0, 50)
hour_ticks = list(range(0, 26))
hour_labels = [f"{h:02d}:00" if h < 24 else "" for h in hour_ticks]
two_row(ax, hour_ticks, hour_labels, 8, 8.3)
ax.set_yticks(range(0, 51, 10))
ax.yaxis.set_minor_locator(MultipleLocator(5))
ax.grid(True, which="both", color="black", lw=0.6, ls=dotted)
ax.tick_params(axis="y", pad=8)
labels(ax, b, "Speed (knots)", 63, "Time (GMT)", 4638)
text(281, 4259, "Wokingham,  27 April 2019", 13)
text(592, 4251, "Wind speed, 10 min mean / max gust", 9.5)
text(592, 4266, "Speeds below 4 kt shown at x10 scale", 9.5)
box(746, 4246, 968, 4267)
key_line(777, 790, 4257, lw=2.0)
text(797, 4256, "Speed x 1", 7.5, ha="left")
fig.lines.append(Line2D([fx(870)], [fy(4256)], transform=fig.transFigure, marker="D", ms=5,
                        mfc="white", mec="black", mew=0.8, ls="none", zorder=6))
text(883, 4256, "Speed / 10", 7.5, ha="left")

fig.savefig("out.png", dpi=100)
